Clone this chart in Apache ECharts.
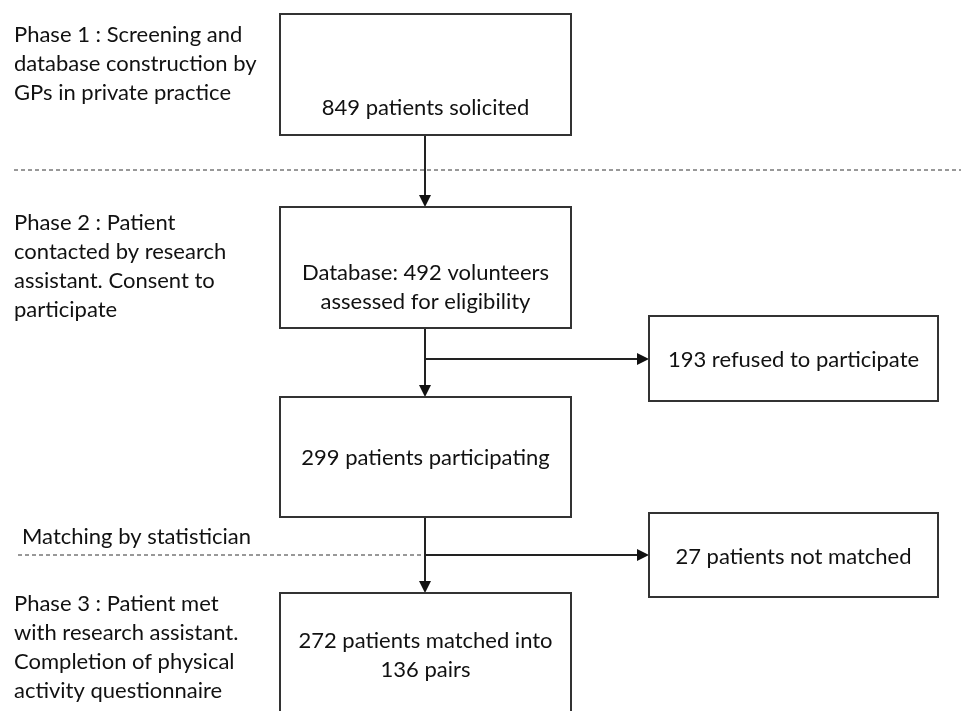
<!DOCTYPE html>
<html>
<head>
<meta charset="utf-8">
<script src="https://cdn.jsdelivr.net/npm/echarts@6/dist/echarts.min.js"></script>
<style>
  html, body { margin: 0; padding: 0; background: #fff; }
  #flow { width: 961px; height: 711px; }
</style>
</head>
<body>
<div id="flow"></div>
<script>
// box texts (counts of the study flow)
var boxLabels = [
  "849 patients solicited",
  "Database: 492 volunteers\nassessed for eligibility",
  "193 refused to participate",
  "299 patients participating",
  "27 patients not matched",
  "272 patients matched into\n136 pairs"
];
// phase captions on the left
var phaseLabels = [
  "Phase 1 : Screening and\ndatabase construction by\nGPs in private practice",
  "Phase 2 : Patient\ncontacted by research\nassistant. Consent to\nparticipate",
  "Matching by statistician",
  "Phase 3 : Patient met\nwith research assistant.\nCompletion of physical\nactivity questionnaire"
];

// layout, in figure units (x right, y down)
var boxRects = [[280, 14, 571, 135], [280, 207, 571, 328], [649, 316, 938, 401],
                [280, 397, 571, 517], [649, 513, 938, 597], [280, 593, 571, 740]];
var boxTextY = [108, 287, 360, 458, 557, 655];
var phasePos = [[14, 35], [14, 223], [22, 537], [14, 604]];
// arrows: from -> to (tip)
var arrows = [[[425, 135], [425, 207]], [[425, 328], [425, 397]], [[425, 359], [649, 359]],
              [[425, 517], [425, 593]], [[425, 555], [649, 555]]];
var dashes = [[[14, 170], [961, 170]], [[18, 555], [425, 555]]];

var FONT = "Lato, 'Noto Sans', sans-serif";
var FS = 22;
var LH = 29;

var chart = echarts.init(document.getElementById("flow"));

function boxItem(params, api) {
  var r = boxRects[params.dataIndex];
  var p0 = api.coord([r[0], r[1]]);
  var p1 = api.coord([r[2], r[3]]);
  var cx = (p0[0] + p1[0]) / 2;
  var ty = api.coord([0, boxTextY[params.dataIndex]])[1];
  return {
    type: "group",
    children: [
      {
        type: "rect",
        shape: { x: p0[0], y: p0[1], width: p1[0] - p0[0], height: p1[1] - p0[1] },
        style: { fill: "#fff", stroke: "#333", lineWidth: 2 }
      },
      {
        type: "text",
        x: cx, y: ty,
        style: {
          text: boxLabels[params.dataIndex],
          fill: "#111", fontSize: FS, fontFamily: FONT,
          align: "center", verticalAlign: "middle", lineHeight: LH
        }
      }
    ]
  };
}

function phaseItem(params, api) {
  var p = phasePos[params.dataIndex];
  var c = api.coord(p);
  return {
    type: "text",
    x: c[0], y: c[1] - LH / 2,
    style: {
      text: phaseLabels[params.dataIndex],
      fill: "#111", fontSize: FS, fontFamily: FONT,
      align: "left", verticalAlign: "top", lineHeight: LH
    }
  };
}

function arrowItem(params, api) {
  var a = arrows[params.dataIndex];
  var s = api.coord(a[0]);
  var e = api.coord(a[1]);
  var dx = e[0] - s[0], dy = e[1] - s[1];
  var len = Math.sqrt(dx * dx + dy * dy);
  var ux = dx / len, uy = dy / len;
  var hl = 12, hw = 6;
  var bx = e[0] - ux * hl, by = e[1] - uy * hl;
  return {
    type: "group",
    children: [
      {
        type: "line",
        shape: { x1: s[0], y1: s[1], x2: bx, y2: by },
        style: { stroke: "#222", lineWidth: 2 }
      },
      {
        type: "polygon",
        shape: { points: [[e[0], e[1]], [bx - uy * hw, by + ux * hw], [bx + uy * hw, by - ux * hw]] },
        style: { fill: "#111" }
      }
    ]
  };
}

function dashItem(params, api) {
  var d = dashes[params.dataIndex];
  var s = api.coord(d[0]);
  var e = api.coord(d[1]);
  return {
    type: "line",
    shape: { x1: s[0], y1: s[1], x2: e[0], y2: e[1] },
    style: { stroke: "#333", lineWidth: 1, lineDash: [4, 3] }
  };
}

function idx(arr) {
  return arr.map(function (_, i) { return [i]; });
}

chart.setOption({
  animation: false,
  grid: { left: 0, right: 0, top: 0, bottom: 0 },
  xAxis: { type: "value", min: 0, max: 961, show: false },
  yAxis: { type: "value", min: 0, max: 711, inverse: true, show: false },
  series: [
    { type: "custom", renderItem: dashItem, data: idx(dashes), clip: false, z: 1 },
    { type: "custom", renderItem: arrowItem, data: idx(arrows), clip: false, z: 2 },
    { type: "custom", renderItem: boxItem, data: idx(boxLabels), clip: true, z: 3 },
    { type: "custom", renderItem: phaseItem, data: idx(phaseLabels), clip: false, z: 3 }
  ]
});
</script>
</body>
</html>
